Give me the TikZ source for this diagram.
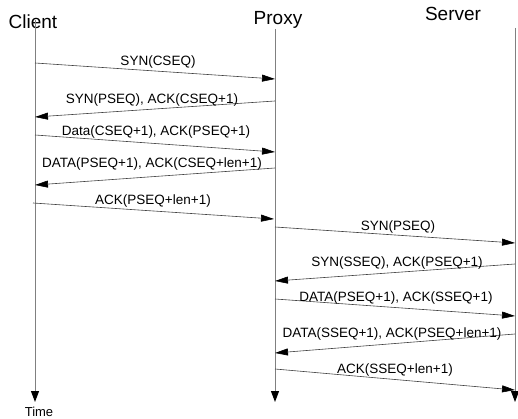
\documentclass[tikz,border=0pt]{standalone}
\usepackage{fontspec}
\setmainfont{Liberation Sans}
\usetikzlibrary{arrows.meta}
\begin{document}
\begin{tikzpicture}[x=1pt,y=-1pt,
  title/.style={font=\fontsize{19}{20}\selectfont, inner sep=0pt},
  lbl/.style={font=\fontsize{13.5}{15}\selectfont, inner sep=0pt},
  life/.style={draw=black!50, line width=1pt, -{Triangle[length=11pt,width=8pt,fill=black,color=black]}},
  msg/.style={draw=black!75, line width=0.6pt, -{Triangle[length=13pt,width=7pt,fill=black,color=black]}}]
\useasboundingbox (0,0) rectangle (518,419);
% headers
\node[title] (client) at (33,22) {Client};
\node[title] (proxy) at (278,20) {Proxy};
\node[title] (server) at (453,14) {Server};
\node[font=\fontsize{13}{14}\selectfont, inner sep=0pt] (time) at (39,412) {Time};
% lifelines
\coordinate (c0) at (35,20); \coordinate (c1) at (35,402);
\coordinate (p0) at (275,29); \coordinate (p1) at (275,402);
\coordinate (s0) at (515,28); \coordinate (s1) at (515,402);
\draw[life] (c0) -- (c1);
\draw[life] (p0) -- (p1);
\draw[life] (s0) -- (s1);
% message endpoints
\coordinate (a1) at (35,63);  \coordinate (b1) at (275,79);
\coordinate (a2) at (275,101); \coordinate (b2) at (35,117);
\coordinate (a3) at (35,135); \coordinate (b3) at (275,152);
\coordinate (a4) at (275,168); \coordinate (b4) at (35,185);
\coordinate (a5) at (33,203); \coordinate (b5) at (274,219);
\coordinate (a6) at (275,227); \coordinate (b6) at (515,243);
\coordinate (a7) at (515,264); \coordinate (b7) at (275,281);
\coordinate (a8) at (275,299); \coordinate (b8) at (515,316);
\coordinate (a9) at (515,334); \coordinate (b9) at (275,353);
\coordinate (a10) at (275,369); \coordinate (b10) at (515,390);
\foreach \i in {1,...,10} {\draw[msg] (a\i) -- (b\i);}
% labels
\node[lbl] (l1) at (158,62) {SYN(CSEQ)};
\node[lbl] (l2) at (152,100) {SYN(PSEQ), ACK(CSEQ+1)};
\node[lbl] (l3) at (156,132) {Data(CSEQ+1), ACK(PSEQ+1)};
\node[lbl] (l4) at (152,164) {DATA(PSEQ+1), ACK(CSEQ+len+1)};
\node[lbl] (l5) at (153,201) {ACK(PSEQ+len+1)};
\node[lbl] (l6) at (398,227) {SYN(PSEQ)};
\node[lbl] (l7) at (397,263) {SYN(SSEQ), ACK(PSEQ+1)};
\node[lbl] (l8) at (396,298) {DATA(PSEQ+1), ACK(SSEQ+1)};
\node[lbl] (l9) at (392,334) {DATA(SSEQ+1), ACK(PSEQ+len+1)};
\node[lbl] (l10) at (395,370) {ACK(SSEQ+len+1)};
\end{tikzpicture}
\end{document}
